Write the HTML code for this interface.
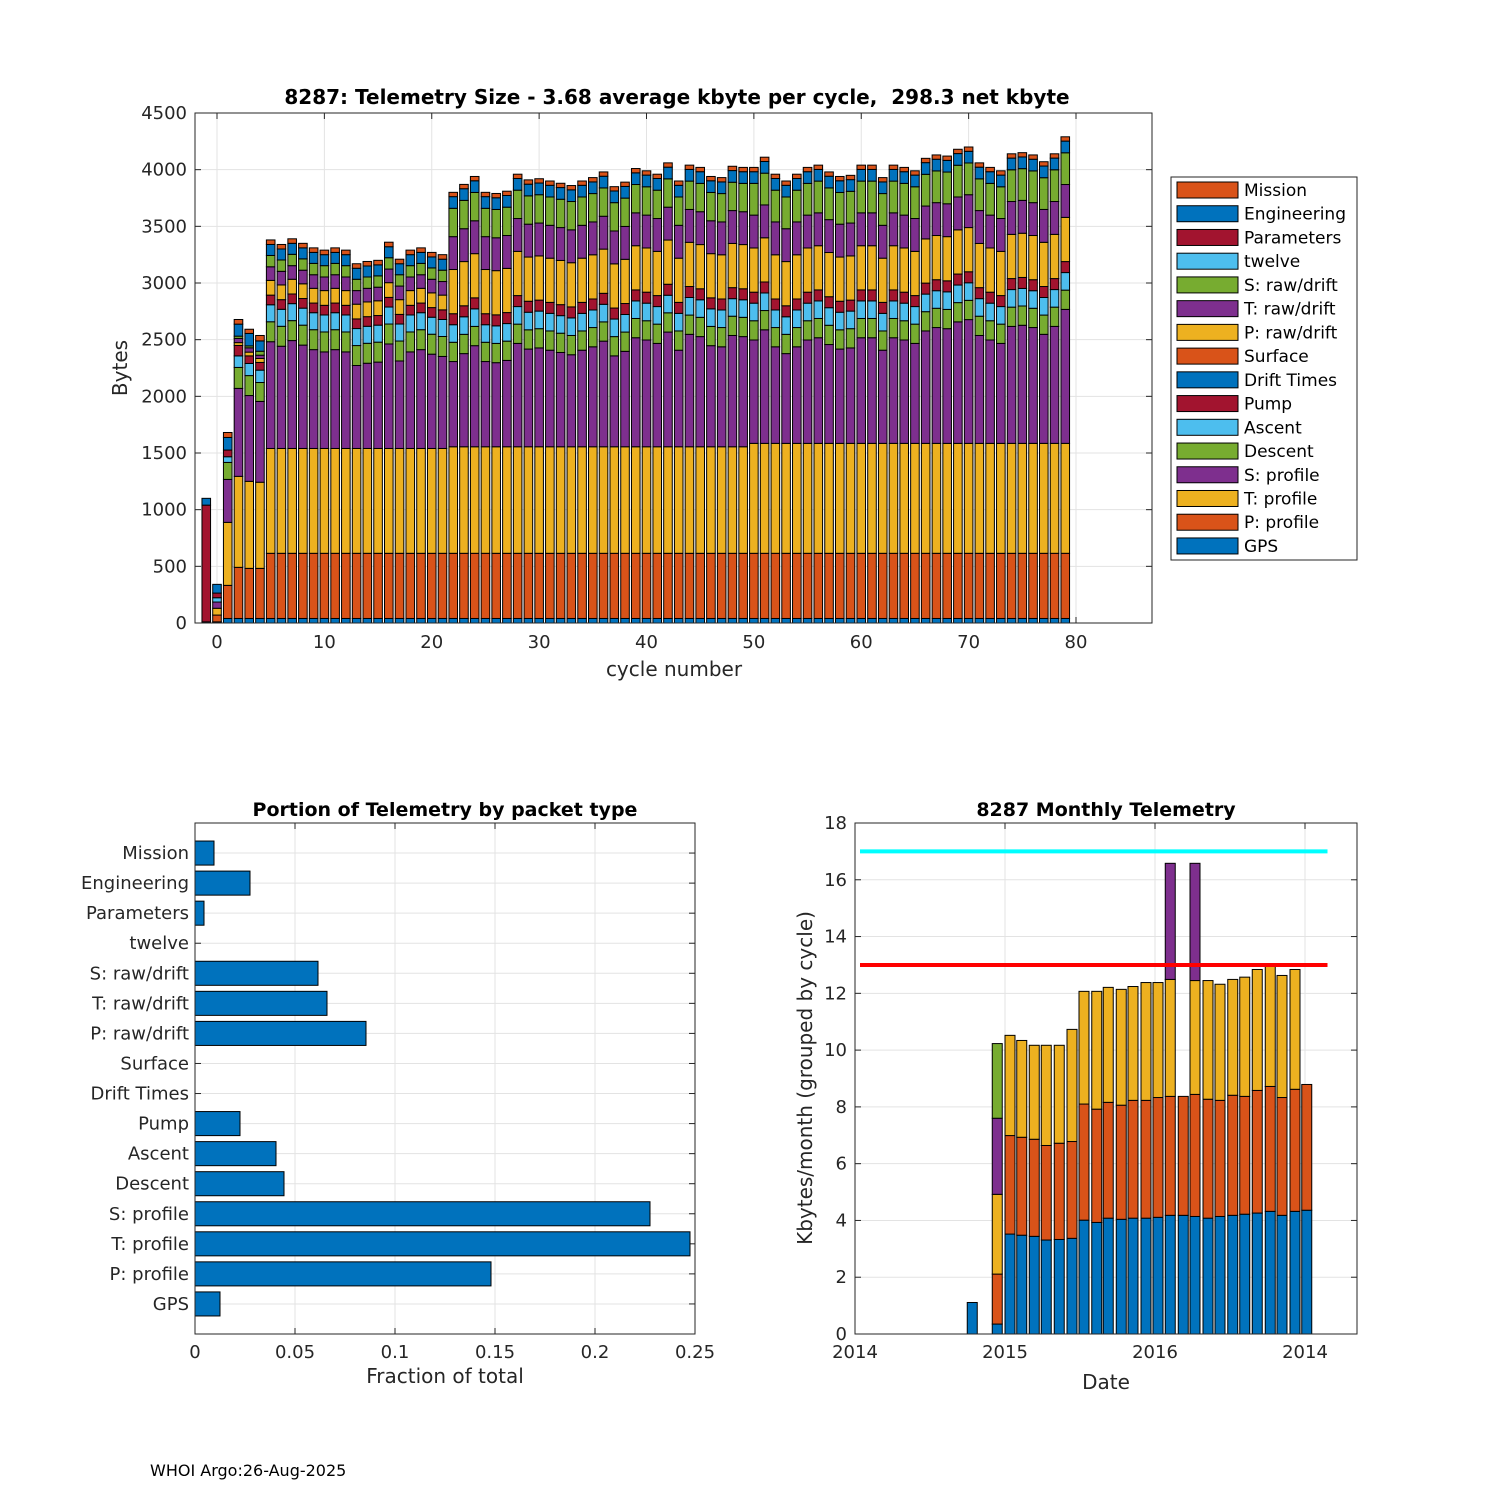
<!DOCTYPE html>
<html><head><meta charset="utf-8"><style>
html,body{margin:0;padding:0;background:#fff}
svg{display:block;font-family:"DejaVu Sans","Liberation Sans",sans-serif}
</style></head><body>
<svg id="fig" width="1500" height="1500" viewBox="0 0 1500 1500" xmlns="http://www.w3.org/2000/svg">
<rect width="1500" height="1500" fill="#fff"/>
<g id="top"></g>
<g id="legend"></g>
<g id="bl"></g>
<g id="br"></g>
<text x="150" y="1476" font-size="16" fill="#000">WHOI Argo:26-Aug-2025</text>
</svg>
<script>
// ---------- Top chart data ----------
const cycles = [-1,0,1,2,3,4,5,6,7,8,9,10,11,12,13,14,15,16,17,18,19,20,21,22,23,24,25,26,27,28,29,30,31,32,33,34,35,36,37,38,39,40,41,42,43,44,45,46,47,48,49,50,51,52,53,54,55,56,57,58,59,60,61,62,63,64,65,66,67,68,69,70,71,72,73,74,75,76,77,78,79];
const gps = [10,10,40,40,40,40, 40,40,40,40,40,40,40,40,40,40,40,40,40,40,40,40,40, 40,40,40,40,40,40,40,40,40,40,40,40,40,40,40,40,40,40,40,40,40,40,40,40,40,40,40,40, 40,40,40,40,40,40,40,40,40,40,40,40,40,40,40,40,40,40,40,40,40,40,40,40,40,40,40,40,40,40];
const pProfile = [0,60,292,451,442,442, 575,575,575,575,575,575,575,575,575,575,575,575,575,575,575,575,575, 575,575,575,575,575,575,575,575,575,575,575,575,575,575,575,575,575,575,575,575,575,575,575,575,575,575,575,575, 575,575,575,575,575,575,575,575,575,575,575,575,575,575,575,575,575,575,575,575,575,575,575,575,575,575,575,575,575,575];
const tProfile = [0,60,556,803,768,760, 925,925,925,925,925,925,925,925,925,925,925,925,925,925,925,925,925, 940,940,940,940,940,940,940,940,940,940,940,940,940,940,940,940,940,940,940,940,940,940,940,940,940,940,940,940, 970,970,970,970,970,970,970,970,970,970,970,970,970,970,970,970,970,970,970,970,970,970,970,970,970,970,970,970,970,970];
const sProfile = [0,55,379,776,757,713, 942,902,952,912,872,852,872,852,732,752,762,922,772,852,872,832,812, 752,822,892,752,742,762,912,862,872,852,832,812,852,882,932,802,842,962,942,912,1012,852,992,972,892,882,982,972, 912,1002,852,792,852,912,932,872,832,842,932,932,822,932,912,882,992,1022,1012,1072,1092,952,912,882,1032,1042,1022,962,1032,1182];
const descent = [0,0,150,185,176,167, 176,176,176,176,176,176,176,176,176,176,176,176,176,176,176,176,176, 170,170,170,170,170,170,170,170,170,170,170,170,170,170,170,170,170,170,170,170,170,170,170,170,170,170,170,170, 170,170,170,170,170,170,170,170,170,170,170,170,170,170,170,170,170,170,170,170,170,170,170,170,170,170,170,170,170,170];
const ascent = [0,38,50,102,107,109, 150,150,150,150,150,150,150,150,150,150,150,150,150,150,150,150,150, 155,155,155,155,155,155,155,155,155,155,155,155,155,155,155,155,155,155,155,155,155,155,155,155,155,155,155,155, 155,155,155,155,155,155,155,155,155,155,155,155,155,155,155,155,155,155,155,155,155,155,155,155,155,155,155,155,155,155];
const pump = [0,41,59,92,67,68, 85,85,85,85,85,85,85,85,85,85,85,85,85,85,85,85,85, 97,97,97,97,97,97,97,97,97,97,97,97,97,97,97,97,97,97,97,97,97,97,97,97,97,97,97,97, 97,97,97,97,97,97,97,97,97,97,97,97,97,97,97,97,97,97,97,97,97,97,97,97,97,97,97,97,97,97];
const driftTimes = [0,0,0,0,0,0, 0,0,0,0,0,0,0,0,0,0,0,0,0,0,0,0,0, 0,0,0,0,0,0,0,0,0,0,0,0,0,0,0,0,0,0,0,0,0,0,0,0,0,0,0,0, 0,0,0,0,0,0,0,0,0,0,0,0,0,0,0,0,0,0,0,0,0,0,0,0,0,0,0,0,0,0];
const surface = [0,0,0,0,0,0, 0,0,0,0,0,0,0,0,0,0,0,0,0,0,0,0,0, 0,0,0,0,0,0,0,0,0,0,0,0,0,0,0,0,0,0,0,0,0,0,0,0,0,0,0,0, 0,0,0,0,0,0,0,0,0,0,0,0,0,0,0,0,0,0,0,0,0,0,0,0,0,0,0,0,0,0];
const pRaw = [0,0,0,25,33,35, 130,130,130,130,130,130,130,130,130,130,130,130,130,130,130,130,130, 390,390,390,390,390,390,390,390,390,390,390,390,390,390,390,390,390,390,390,390,390,390,390,390,390,390,390,390, 390,390,390,390,390,390,390,390,390,390,390,390,390,390,390,390,390,390,390,390,390,390,390,390,390,390,390,390,390,390];
const tRaw = [0,0,0,37,38,29, 120,120,120,120,120,120,120,120,120,120,120,120,120,120,120,120,120, 290,290,290,290,290,290,290,290,290,290,290,290,290,290,290,290,290,290,290,290,290,290,290,290,290,290,290,290, 290,290,290,290,290,290,290,290,290,290,290,290,290,290,290,290,290,290,290,290,290,290,290,290,290,290,290,290,290,290];
const sRaw = [0,0,0,20,17,35, 100,100,100,100,100,100,100,100,100,100,100,100,100,100,100,100,100, 250,250,250,250,250,250,250,250,250,250,250,250,250,250,250,250,250,250,250,250,250,250,250,250,250,250,250,250, 280,280,280,280,280,280,280,280,280,280,280,280,280,280,280,280,280,280,280,280,280,280,280,280,280,280,280,280,280,280];
const twelve = [0,0,0,0,0,0, 0,0,0,0,0,0,0,0,0,0,0,0,0,0,0,0,0, 0,0,0,0,0,0,0,0,0,0,0,0,0,0,0,0,0,0,0,0,0,0,0,0,0,0,0,0, 0,0,0,0,0,0,0,0,0,0,0,0,0,0,0,0,0,0,0,0,0,0,0,0,0,0,0,0,0,0];
const parameters = [1030,0,0,0,0,0, 0,0,0,0,0,0,0,0,0,0,0,0,0,0,0,0,0, 0,0,0,0,0,0,0,0,0,0,0,0,0,0,0,0,0,0,0,0,0,0,0,0,0,0,0,0, 0,0,0,0,0,0,0,0,0,0,0,0,0,0,0,0,0,0,0,0,0,0,0,0,0,0,0,0,0,0];
const engineering = [60,77,111,106,110,91, 97,97,97,97,97,97,97,97,97,97,97,97,97,97,97,97,97, 103,103,103,103,103,103,103,103,103,103,103,103,103,103,103,103,103,103,103,103,103,103,103,103,103,103,103,103, 103,103,103,103,103,103,103,103,103,103,103,103,103,103,103,103,103,103,103,103,103,103,103,103,103,103,103,103,103,103];
const mission = [0,0,44,41,37,48, 40,40,40,40,40,40,40,40,40,40,40,40,40,40,40,40,40, 38,38,38,38,38,38,38,38,38,38,38,38,38,38,38,38,38,38,38,38,38,38,38,38,38,38,38,38, 38,38,38,38,38,38,38,38,38,38,38,38,38,38,38,38,38,38,38,38,38,38,38,38,38,38,38,38,38,38];
const yTicksTop = [0,500,1000,1500,2000,2500,3000,3500,4000,4500];
const xTicksTop = [0,10,20,30,40,50,60,70,80];
const packetNames = ["GPS","P: profile","T: profile","S: profile","Descent","Ascent","Pump","Drift Times","Surface","P: raw/drift","T: raw/drift","S: raw/drift","twelve","Parameters","Engineering","Mission"];

// ---------- Bottom-left data ----------
const fractions = [0.0125,0.148,0.2475,0.2275,0.0445,0.0405,0.0225,0,0,0.0855,0.066,0.0615,0,0.0045,0.0275,0.0095];
const xTicksBL = [0,0.05,0.1,0.15,0.2,0.25];
const xTickLabelsBL = ["0","0.05","0.1","0.15","0.2","0.25"];

// ---------- Bottom-right data ----------
const monthPos = [9.38,11.38,12.4,13.34,14.34,15.3,16.34,17.36,18.32,19.34,20.26,21.3,22.24,23.28,24.24,25.22,26.26,27.2,28.24,29.2,30.22,31.18,32.18,33.22,34.16,35.2,36.14];
const mBlue   = [1.11,0.35,3.52,3.48,3.44,3.31,3.33,3.37,4.01,3.93,4.08,4.04,4.08,4.08,4.11,4.18,4.18,4.14,4.08,4.14,4.18,4.22,4.26,4.32,4.18,4.32,4.36];
const mOrange = [0,1.76,3.47,3.45,3.42,3.33,3.39,3.41,4.09,3.99,4.08,4.02,4.15,4.15,4.22,4.19,4.19,4.30,4.19,4.09,4.23,4.15,4.32,4.40,4.15,4.30,4.43];
const mYellow = [0,2.81,3.53,3.41,3.31,3.53,3.45,3.95,3.97,4.15,4.05,4.08,4.01,4.15,4.05,4.12,0,4.01,4.18,4.09,4.08,4.20,4.26,4.30,4.30,4.22,0];
const mPurple = [0,2.68,0,0,0,0,0,0,0,0,0,0,0,0,0,4.09,0,4.13,0,0,0,0,0,0,0,0,0];
const mGreen  = [0,2.63,0,0,0,0,0,0,0,0,0,0,0,0,0,0,0,0,0,0,0,0,0,0,0,0,0];
const limitHigh = 17, limitLow = 13;
const yTicksBR = [0,2,4,6,8,10,12,14,16,18];
const xTicksBR = [0,12,24,36];
const xTickLabelsBR = ["2014","2015","2016","2014"];

const NS = "http://www.w3.org/2000/svg";
function mk(tag, attrs, parent, text){
  const e = document.createElementNS(NS, tag);
  for (const k in attrs) e.setAttribute(k, attrs[k]);
  if (text !== undefined) e.textContent = text;
  parent.appendChild(e); return e;
}
const C = {blue:"#0072BD",orange:"#D95319",yellow:"#EDB120",purple:"#7E2F8E",green:"#77AC30",lblue:"#4DBEEE",red:"#A2142F"};
const colors = [C.blue,C.orange,C.yellow,C.purple,C.green,C.lblue,C.red,C.blue,C.orange,C.yellow,C.purple,C.green,C.lblue,C.red,C.blue,C.orange];
const series = [gps,pProfile,tProfile,sProfile,descent,ascent,pump,driftTimes,surface,pRaw,tRaw,sRaw,twelve,parameters,engineering,mission];
const GRID = "#e3e3e3", AX = "#262626";

function frame(g, L, T, R, B){
  const f = mk("rect",{x:L,y:T,width:R-L,height:B-T,fill:"none",stroke:AX,"stroke-width":1},g);
  
  
}

// ===== Top chart =====
(function(){
  const g = document.getElementById("top");
  const L=195,R=1152,T=113,B=623;
  const xs = c => 217 + c*(1076-217)/80;
  const ys = v => B - v*(B-T)/4500;
  yTicksTop.forEach(t=>{
    const gl = mk("line",{x1:L,x2:R,y1:ys(t),y2:ys(t),stroke:GRID,"stroke-width":1},g);
    
    
    mk("line",{x1:L,x2:L+6,y1:ys(t),y2:ys(t),stroke:AX},g);
    mk("line",{x1:R,x2:R-6,y1:ys(t),y2:ys(t),stroke:AX},g);
    const lb = mk("text",{x:L-8,y:ys(t)+6,"text-anchor":"end","font-size":18,fill:AX},g,String(t));
    
    
  });
  xTicksTop.forEach(t=>{
    const gl = mk("line",{x1:xs(t),x2:xs(t),y1:T,y2:B,stroke:GRID,"stroke-width":1},g);
    
    
    mk("line",{x1:xs(t),x2:xs(t),y1:B,y2:B-6,stroke:AX},g);
    mk("line",{x1:xs(t),x2:xs(t),y1:T,y2:T+6,stroke:AX},g);
    const lb = mk("text",{x:xs(t),y:B+25,"text-anchor":"middle","font-size":18,fill:AX},g,String(t));
    
    
  });
  const bw = 0.8*(1076-217)/80;
  cycles.forEach((c,i)=>{
    let cum = 0;
    series.forEach((s,k)=>{
      const v = s[i];
      if (v<=0) return;
      const r = mk("rect",{x:xs(c)-bw/2,y:ys(cum+v),width:bw,height:ys(cum)-ys(cum+v),fill:colors[k],stroke:"#000","stroke-width":1},g);
      
      
      cum += v;
    });
  });
  frame(g,L,T,R,B);
  const tt = mk("text",{x:677,y:104,"text-anchor":"middle","font-size":20,"font-weight":"bold",fill:"#000"},g,"8287: Telemetry Size - 3.68 average kbyte per cycle,\u00A0 298.3 net kbyte");
  
  
  const xl = mk("text",{x:674,y:676,"text-anchor":"middle","font-size":20,fill:AX},g,"cycle number");
  
  
  const yl = mk("text",{x:0,y:0,"text-anchor":"middle","font-size":20,fill:AX,transform:"translate(127,368) rotate(-90)"},g,"Bytes");
  
  
})();

// ===== Legend =====
(function(){
  const g = document.getElementById("legend");
  const box = mk("rect",{x:1171,y:177,width:186,height:383,fill:"#fff",stroke:AX,"stroke-width":1},g);
  
  
  for (let j=0;j<16;j++){
    const k = 15-j;
    const yc = 190 + j*23.73;
    const e = mk("g",{},g);
    
    
    mk("rect",{x:1177,y:yc-8,width:61,height:16,fill:colors[k],stroke:"#000","stroke-width":1},e);
    mk("text",{x:1244,y:yc+6,"font-size":17,fill:"#000"},e,packetNames[k]);
  }
})();

// ===== Bottom-left chart =====
(function(){
  const g = document.getElementById("bl");
  const L=195,R=695,T=823,B=1334;
  const xs = v => L + v*(R-L)/0.25;
  const ys = i => B - i*(B-T)/17;
  xTicksBL.forEach((t,j)=>{
    const gl = mk("line",{x1:xs(t),x2:xs(t),y1:T,y2:B,stroke:GRID},g);
    
    
    mk("line",{x1:xs(t),x2:xs(t),y1:B,y2:B-6,stroke:AX},g);
    mk("line",{x1:xs(t),x2:xs(t),y1:T,y2:T+6,stroke:AX},g);
    const lb = mk("text",{x:xs(t),y:B+24,"text-anchor":"middle","font-size":18,fill:AX},g,xTickLabelsBL[j]);
    
    
  });
  packetNames.forEach((n,i)=>{
    const y = ys(i+1);
    const gl = mk("line",{x1:L,x2:R,y1:y,y2:y,stroke:GRID},g);
    
    
    mk("line",{x1:L,x2:L+6,y1:y,y2:y,stroke:AX},g);
    mk("line",{x1:R,x2:R-6,y1:y,y2:y,stroke:AX},g);
    const lb = mk("text",{x:L-6,y:y+6,"text-anchor":"end","font-size":18,fill:AX},g,n);
    
    
    if (fractions[i]>0){
      const bh = 0.8*(B-T)/17;
      const r = mk("rect",{x:xs(0),y:y-bh/2,width:xs(fractions[i])-xs(0),height:bh,fill:C.blue,stroke:"#000","stroke-width":1},g);
      
      
    }
  });
  frame(g,L,T,R,B);
  const tt = mk("text",{x:445,y:816,"text-anchor":"middle","font-size":19,"font-weight":"bold",fill:"#000"},g,"Portion of Telemetry by packet type");
  
  
  const xl = mk("text",{x:445,y:1383,"text-anchor":"middle","font-size":20,fill:AX},g,"Fraction of total");
  
  
})();

// ===== Bottom-right chart =====
(function(){
  const g = document.getElementById("br");
  const L=855,R=1357,T=823,B=1334;
  const xs = m => L + m*12.5;
  const ys = v => B - v*(B-T)/18;
  yTicksBR.forEach(t=>{
    const gl = mk("line",{x1:L,x2:R,y1:ys(t),y2:ys(t),stroke:GRID},g);
    
    
    mk("line",{x1:L,x2:L+6,y1:ys(t),y2:ys(t),stroke:AX},g);
    mk("line",{x1:R,x2:R-6,y1:ys(t),y2:ys(t),stroke:AX},g);
    const lb = mk("text",{x:L-8,y:ys(t)+6,"text-anchor":"end","font-size":18,fill:AX},g,String(t));
    
    
  });
  xTicksBR.forEach((t,j)=>{
    const gl = mk("line",{x1:xs(t),x2:xs(t),y1:T,y2:B,stroke:GRID},g);
    
    
    mk("line",{x1:xs(t),x2:xs(t),y1:B,y2:B-6,stroke:AX},g);
    mk("line",{x1:xs(t),x2:xs(t),y1:T,y2:T+6,stroke:AX},g);
    const lb = mk("text",{x:xs(t),y:B+24,"text-anchor":"middle","font-size":18,fill:AX},g,xTickLabelsBR[j]);
    
    
  });
  const stacks = [mBlue,mOrange,mYellow,mPurple,mGreen];
  const sc = [C.blue,C.orange,C.yellow,C.purple,C.green];
  const bw = 0.8*12.5;
  monthPos.forEach((m,i)=>{
    let cum = 0;
    stacks.forEach((s,k)=>{
      const v = s[i];
      if (v<=0) return;
      const r = mk("rect",{x:xs(m)-bw/2,y:ys(cum+v),width:bw,height:ys(cum)-ys(cum+v),fill:sc[k],stroke:"#000","stroke-width":1},g);
      
      
      cum += v;
    });
  });
  const l1 = mk("line",{x1:xs(0.4),x2:xs(37.8),y1:ys(limitHigh),y2:ys(limitHigh),stroke:"#00FFFF","stroke-width":4},g);
  
  
  const l2 = mk("line",{x1:xs(0.4),x2:xs(37.8),y1:ys(limitLow),y2:ys(limitLow),stroke:"#FF0000","stroke-width":4},g);
  
  
  frame(g,L,T,R,B);
  const tt = mk("text",{x:1106,y:816,"text-anchor":"middle","font-size":19,"font-weight":"bold",fill:"#000"},g,"8287 Monthly Telemetry");
  
  
  const xl = mk("text",{x:1106,y:1389,"text-anchor":"middle","font-size":20,fill:AX},g,"Date");
  
  
  const yl = mk("text",{x:0,y:0,"text-anchor":"middle","font-size":20,fill:AX,transform:"translate(812,1078) rotate(-90)"},g,"Kbytes/month (grouped by cycle)");
  
  
})();
</script>
</body></html>
